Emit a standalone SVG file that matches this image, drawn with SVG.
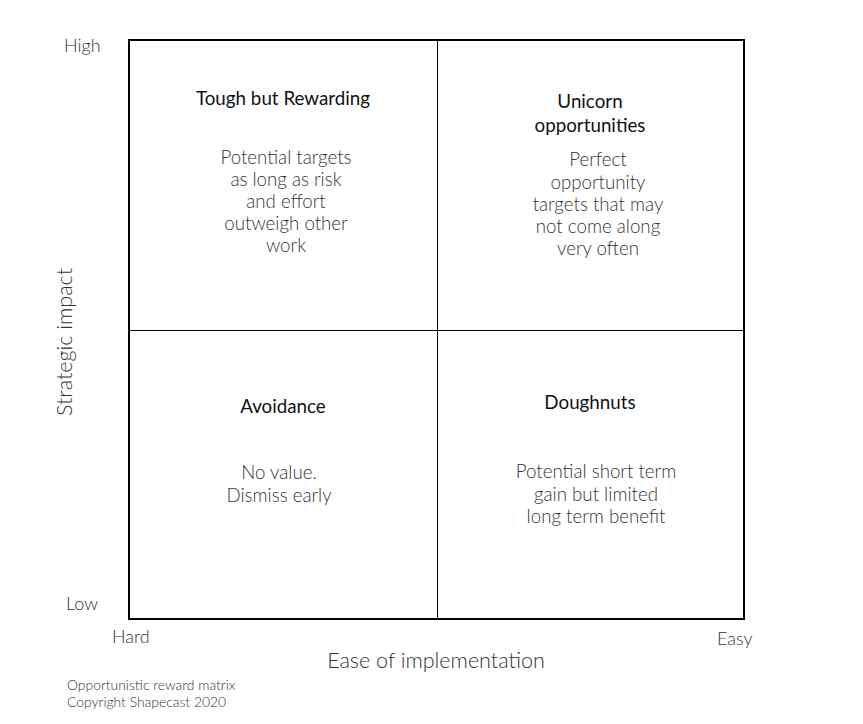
<svg xmlns="http://www.w3.org/2000/svg" width="863" height="724" viewBox="0 0 863 724">
<style>
.t{font-family:Lato,"Noto Sans",sans-serif;font-size:18.8px;fill:#111;text-anchor:middle}
.b{font-family:Lato,"Noto Sans",sans-serif;font-weight:300;font-size:18.7px;fill:#333;text-anchor:middle}
.a{font-family:Lato,"Noto Sans",sans-serif;font-weight:300;font-size:18px;fill:#333}
.x{font-family:Lato,"Noto Sans",sans-serif;font-weight:300;font-size:21.5px;fill:#333;text-anchor:middle}
.f{font-family:Lato,"Noto Sans",sans-serif;font-weight:300;font-size:13.9px;fill:#333}
</style>
<rect width="863" height="724" fill="#fff"/>
<g id="connectors">
<line x1="437.5" y1="40" x2="437.5" y2="619" stroke="#000" stroke-width="1"/>
<line x1="129" y1="330.5" x2="744" y2="330.5" stroke="#000" stroke-width="1"/>
</g>
<g id="matrix"><rect x="129" y="40" width="615" height="579" fill="none" stroke="#000" stroke-width="2"/></g>
<g id="q-tough">
<text class="t" x="283" y="105">Tough but Rewarding</text>
<text class="b" x="286" y="164">Potential targets</text>
<text class="b" x="286" y="186">as long as risk</text>
<text class="b" x="286" y="208">and effort</text>
<text class="b" x="286" y="230">outweigh other</text>
<text class="b" x="286" y="252">work</text>
</g>
<g id="q-unicorn">
<text class="t" x="590" y="108">Unicorn</text>
<text class="t" x="590" y="132">opportunities</text>
<text class="b" x="598" y="166">Perfect</text>
<text class="b" x="598" y="189">opportunity</text>
<text class="b" x="598" y="211">targets that may</text>
<text class="b" x="598" y="233">not come along</text>
<text class="b" x="598" y="255">very often</text>
</g>
<g id="q-avoid">
<text class="t" x="283" y="413">Avoidance</text>
<text class="b" x="279" y="479">No value.</text>
<text class="b" x="279" y="502">Dismiss early</text>
</g>
<g id="q-dough">
<text class="t" x="590" y="409">Doughnuts</text>
<text class="b" x="596" y="478">Potential short term</text>
<text class="b" x="596" y="501">gain but limited</text>
<text class="b" x="596" y="523">long term benefit</text>
</g>
<g id="axes">
<text class="a" x="64" y="52">High</text>
<text class="a" x="66" y="610">Low</text>
<text class="a" x="112" y="643">Hard</text>
<text class="a" x="717" y="645">Easy</text>
<text class="x" x="436" y="668">Ease of implementation</text>
<text class="x" transform="translate(72,342) rotate(-90)">Strategic impact</text>
</g>
<g id="footer">
<text class="f" x="67" y="690">Opportunistic reward matrix</text>
<text class="f" x="67" y="707">Copyright Shapecast 2020</text>
</g>
</svg>
